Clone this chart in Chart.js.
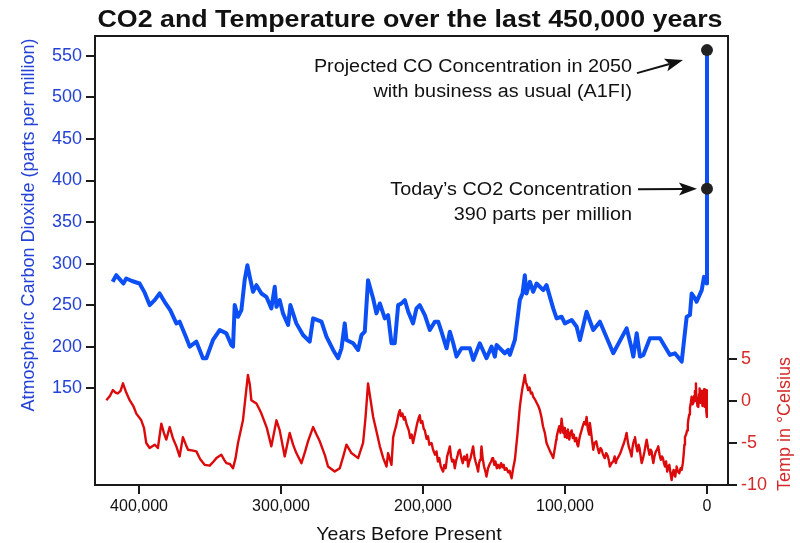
<!DOCTYPE html>
<html><head><meta charset="utf-8">
<script src="https://cdn.jsdelivr.net/npm/chart.js@4"></script>
<style>html,body{margin:0;padding:0;background:#fff}#wrap{width:800px;height:543px;position:relative}</style>
</head><body><div id="wrap"><canvas id="c"></canvas></div>
<script>
// ---- DATA (years in thousands before present) ----
const co2Kyr = [418.6,416,413.5,411,409,405,399.6,396,392.5,389,385.5,382,378,373.7,371.4,367,364.3,359.6,355,352.6,347.9,343.2,338.5,335,333.8,332.6,330.3,327.9,325.6,323.7,322,319.7,317.3,313.8,310.3,306.8,304.4,303.2,300.9,298.6,295,293.4,289.2,284.5,279.8,277.4,271.5,268,263.3,259.8,257.4,255.1,253.9,249.2,245.7,243.3,241,238.7,235.1,232.8,230.4,226.9,224.6,222.2,219.9,217.5,215.2,212.8,210.4,207,204.6,202.3,198.7,195.2,191.7,189.3,187,183.4,181.1,178.7,176.4,172.9,167,164.6,160,155.3,151.7,149.4,148.2,142.4,140,138.8,135.3,131.8,129.9,128.3,127.1,124.7,122.4,120,115.3,113,108.3,105.9,102.4,100.1,95.3,91.8,89.5,84.8,80.1,75.4,66,56.6,53.1,51.9,49.5,47.2,44.8,40.2,33.1,26.1,22.6,17.8,14.3,12,10.8,8.5,7.3,3.7,2.1,0.2,0,0,0];
const co2Ppm = [278,286,281,276,282,279,276,265,250,256,264,254,244,228,230,212,200,206,186,186,208,220,216,202,200,250,236,244,280,298,284,266,274,264,260,246,272,248,256,240,226,250,228,214,206,234,230,212,196,186,198,228,208,204,196,214,218,280,258,240,252,234,238,204,204,250,252,256,242,228,246,250,238,220,230,230,218,198,218,204,188,198,198,184,204,186,200,188,202,192,196,190,208,256,264,286,264,278,266,276,268,274,246,234,236,228,232,224,208,242,220,230,192,222,198,188,216,188,190,210,210,190,192,182,236,238,264,258,254,268,284,276,280,390,557];

const tempKyr = [423,420.5,418.4,416.5,414.9,413,411.3,409,406.6,404,401.9,398.4,396.5,394.9,392.5,389,386.7,384.3,382.5,380.8,378.4,376,373.7,371.4,369.1,367,365.5,362,359.6,357,353.8,350.2,347.5,345.5,342,340,338.5,336,333.8,332,330.3,326.8,325,323.3,322,320.9,317.3,315.5,313.8,310,306.8,303.2,300.9,297.4,293.9,291.5,289.2,285.6,283,281,277.4,275,272.7,269,266.9,262.2,258.6,256,253.9,250.4,245.7,242.2,240.5,238.7,236.8,235.1,232.5,230.4,228,225.7,224.6,222.2,
221,220,219,218,217,216.3,215.5,214.5,213.5,212.8,211.5,210,209,208,207,206,205,204,203,202.3,201.5,200.5,199.5,198.7,197.5,196.5,195.5,194,192.9,191.5,190.5,189.5,188.5,187.5,186.5,185.8,185,184,183,182,181.1,180.3,179.5,178.5,177.6,176.8,175.8,175,174.1,173,172,171,170,169,168.2,167.4,166.5,165.5,164.7,163.8,163,162,161.2,160.5,159.8,159.2,158.8,158,157,156,155.3,154.2,153,152,151.2,150.6,149.8,149,148,147.1,146,145,144,143.2,142.4,141.2,140,139,138.3,137.6,136.5,135.3,
133.5,131.8,130.8,130,129,128.3,127.6,127,126.4,125.9,125,124,123.2,122.4,121.2,120,118.8,
117.7,116.5,115.5,114.2,113,112,110.5,109.3,108.3,107.5,107,106.2,105.9,105,104,103.2,102.4,101.8,101.2,100.6,100.1,99.3,98.6,98,97.4,97,96.2,95.3,94.5,93.8,93,92,91.3,90.7,90,89.2,88.5,87.5,86.5,85.5,84.8,84,83,82.5,82,81,80.1,79.2,78,77,76,75,74.2,73.2,72,71,70,69.2,68.4,67.2,66,65,64.2,63.6,62.2,61,59.8,58.5,57.5,56.6,55.8,55,54,53.1,52.5,51.9,51.2,50.7,50,49,48.2,47.5,46.7,46,45,44,43.2,42.5,41.5,40.5,39.7,39,38.4,37.8,37,36,35.2,34.3,33.4,32.5,31.7,31,30.3,29.6,28.8,28,27.2,26.5,25.7,24.9,24.2,23.5,22.9,22.3,21.8,21.4,20.5,19.5,18.6,17.8,17,16.5,15.9,15.5,14.7,14,13.5,13.2,12.5,12,11.4,10.8,10.2,9.5,9,8.5,8.1,7.8,7.5,7.2,6.7,6.1,5.6,5.2,4.8,4.5,4.1,3.7,3.2,2.8,2.4,2,1.7,1.4,1.1,0.8,0.5,0.2,0];
const tempC = [0.1,0.6,1.3,1.0,0.9,1.2,2.1,1.0,0.1,-0.6,-1.5,-2.3,-3.2,-5.0,-5.6,-5.2,-5.6,-2.7,-3.8,-4.6,-3.1,-4.5,-5.4,-6.6,-4.3,-5.2,-5.8,-5.9,-6.0,-6.9,-7.6,-7.7,-7.2,-6.8,-6.4,-7.0,-7.4,-7.5,-8.0,-6.8,-5.0,-2.3,0.5,3.1,2.0,0.1,-0.3,-0.9,-1.5,-3.2,-5.4,-2.3,-3.5,-6.6,-3.8,-5.2,-6.2,-7.4,-6.0,-4.8,-3.1,-4.0,-4.8,-6.5,-7.8,-8.4,-8.0,-6.5,-5.2,-6.2,-6.8,-5.0,-2.0,2.1,0.0,-1.9,-3.8,-5.4,-6.8,-7.8,-6.2,-7.6,
-4.3,-3.6,-3.0,-2.2,-1.4,-1.1,-1.8,-1.5,-2.2,-1.9,-2.8,-3.5,-4.4,-4.0,-5.0,-4.2,-3.4,-2.6,-2.0,-1.7,-2.6,-2.4,-3.3,-3.5,-4.5,-4.2,-5.2,-5.0,-5.8,-6.4,-6.0,-7.2,-6.8,-7.8,-8.2,-8.4,-7.6,-8.0,-6.6,-6.0,-5.4,-6.6,-7.2,-7.0,-8.0,-7.2,-6.6,-6.0,-5.8,-6.8,-7.4,-6.6,-7.0,-6.4,-7.8,-7.2,-6.8,-6.0,-5.4,-6.6,-7.2,-7.8,-8.4,-7.4,-7.0,-6.2,-5.4,-6.8,-7.8,-8.4,-9.0,-8.0,-7.5,-7.2,-6.8,-6.8,-7.6,-7.2,-8.0,-7.6,-8.0,-7.4,-7.9,-7.6,-8.2,-8.0,-8.5,-8.3,-8.8,-9.2,-8.0,-7.0,
-4.0,-0.7,0.6,1.5,2.4,3.1,2.2,2.0,1.6,1.3,1.6,0.9,1.0,0.5,0.2,-0.2,-0.6,
-1.1,-2.0,-3.0,-3.8,-5.0,-5.4,-6.0,-6.4,-6.8,-6.0,-5.5,-4.6,-4.3,-3.6,-3.0,-3.8,-2.1,-3.0,-3.8,-3.2,-4.3,-3.6,-4.4,-3.4,-4.2,-4.6,-3.8,-3.5,-4.4,-4.0,-4.8,-4.4,-5.2,-5.4,-4.6,-4.0,-3.6,-3.0,-2.5,-2.8,-1.9,-3.2,-4.0,-2.6,-3.2,-4.6,-5.8,-5.0,-4.8,-5.6,-6.2,-5.6,-5.8,-6.4,-6.8,-6.2,-6.5,-7.0,-7.8,-7.4,-7.2,-6.6,-7.4,-7.0,-6.6,-6.2,-5.6,-5.0,-4.4,-3.8,-4.8,-5.5,-6.0,-6.6,-5.6,-5.0,-4.6,-4.3,-5.2,-6.0,-5.2,-5.6,-6.6,-7.4,-6.8,-6.0,-5.2,-4.6,-5.6,-6.4,-5.8,-6.0,-6.8,-7.4,-6.6,-6.0,-5.8,-5.4,-6.4,-7.0,-6.6,-6.8,-7.4,-7.8,-7.2,-8.4,-7.8,-7.6,-8.6,-9.4,-8.6,-8.2,-8.8,-9.0,-8.2,-7.8,-8.4,-8.6,-8.0,-8.2,-7.4,-6.5,-5.2,-4.3,-4.0,-3.5,-2.8,-2.3,-1.6,-0.8,-0.2,0.5,-0.4,-0.2,0.6,1.2,0.0,2.1,0.4,0.2,-0.6,-0.7,0.8,1.5,-0.2,0.0,1.2,0.9,-0.6,-0.3,1.2,1.4,-0.4,-0.7,1.0,0.8,-1.2,1.3,-1.9];

const markerKyr = [0, 0];
const markerPpm = [390, 557];

const xTickValues = [400000, 300000, 200000, 100000, 0];
const co2TickValues = [150, 200, 250, 300, 350, 400, 450, 500, 550];
const tempTickValues = [5, 0, -5, -10];

const titleText = 'CO2 and Temperature over the last 450,000 years';
const co2AxisTitle = 'Atmospheric Carbon Dioxide (parts per million)';
const tempAxisTitle = 'Temp in \u00B0Celsius';
const xAxisTitle = 'Years Before Present';
const noteProjected = ['Projected CO Concentration in 2050', 'with business as usual (A1FI)'];
const noteToday = ['Today\u2019s CO2 Concentration', '390 parts per million'];

// ---- STYLE ----
const FONT = '"Liberation Sans", Arial, Helvetica, sans-serif';
const BLUE_LINE = '#0b4ff5';
const BLUE_TEXT = '#2442d6';
const RED_LINE = '#dc0a0a';
const RED_TEXT = '#d42a2a';
const AXIS = '#1a1a1a';

const co2Data = co2Kyr.map((k, i) => ({x: k * 1000, y: co2Ppm[i]}));
const tempData = tempKyr.map((k, i) => ({x: k * 1000, y: tempC[i]}));
const markerData = markerKyr.map((k, i) => ({x: k * 1000, y: markerPpm[i]}));

function arrow(ctx, x0, y0, x1, y1) {
  const ang = Math.atan2(y1 - y0, x1 - x0);
  const hl = 18, hw = 6.5;
  const bx = x1 - hl * Math.cos(ang), by = y1 - hl * Math.sin(ang);
  ctx.beginPath();
  ctx.moveTo(x0, y0); ctx.lineTo(bx + 4 * Math.cos(ang), by + 4 * Math.sin(ang));
  ctx.lineWidth = 2; ctx.strokeStyle = '#111'; ctx.stroke();
  ctx.beginPath();
  ctx.moveTo(x1, y1);
  ctx.lineTo(bx - hw * Math.sin(ang), by + hw * Math.cos(ang));
  ctx.lineTo(bx + 4 * Math.cos(ang), by + 4 * Math.sin(ang));
  ctx.lineTo(bx + hw * Math.sin(ang), by - hw * Math.cos(ang));
  ctx.closePath(); ctx.fillStyle = '#111'; ctx.fill();
}

function stretchedText(ctx, text, x, y, sx) {
  ctx.save();
  ctx.translate(x, y); ctx.scale(sx, 1);
  ctx.fillText(text, 0, 0);
  ctx.restore();
}

const textPlugin = {
  id: 'texts',
  afterDraw(chart) {
    const {ctx, chartArea: a, scales} = chart;
    ctx.save();
    // top frame line
    ctx.strokeStyle = AXIS; ctx.lineWidth = 2;
    ctx.beginPath(); ctx.moveTo(a.left - 1, a.top); ctx.lineTo(a.right + 1, a.top); ctx.stroke();
    // title
    ctx.fillStyle = '#111';
    ctx.font = 'bold 23px ' + FONT;
    ctx.textAlign = 'center'; ctx.textBaseline = 'alphabetic';
    stretchedText(ctx, titleText, 410, 27, 1.165);
    // x axis title
    ctx.font = '19px ' + FONT;
    stretchedText(ctx, xAxisTitle, 409, 540, 1.03);
    // left axis title
    ctx.save();
    ctx.translate(34, 225); ctx.rotate(-Math.PI / 2);
    ctx.fillStyle = BLUE_TEXT; ctx.font = '18px ' + FONT;
    ctx.fillText(co2AxisTitle, 0, 0);
    ctx.restore();
    // right axis title
    ctx.save();
    ctx.translate(790, 424); ctx.rotate(-Math.PI / 2);
    ctx.fillStyle = RED_TEXT; ctx.font = '18px ' + FONT;
    ctx.fillText(tempAxisTitle, 0, 0);
    ctx.restore();
    // annotations
    const mx = scales.x.getPixelForValue(markerData[1].x);
    const myTop = scales.y.getPixelForValue(markerData[1].y);
    const myToday = scales.y.getPixelForValue(markerData[0].y);
    ctx.fillStyle = '#111'; ctx.font = '18px ' + FONT; ctx.textAlign = 'right';
    stretchedText(ctx, noteProjected[0], 632, myTop + 22, 1.1);
    stretchedText(ctx, noteProjected[1], 632, myTop + 47, 1.1);
    stretchedText(ctx, noteToday[0], 632, myToday + 6, 1.1);
    stretchedText(ctx, noteToday[1], 632, myToday + 31, 1.1);
    arrow(ctx, 637, myTop + 23, mx - 24, myTop + 10);
    arrow(ctx, 638, myToday + 0.5, mx - 10, myToday);
    ctx.restore();
  }
};

new Chart(document.getElementById('c'), {
  type: 'line',
  data: {
    datasets: [
      {label: 'Temperature', data: tempData, yAxisID: 'y1', borderColor: RED_LINE, borderWidth: 2.4, pointRadius: 0, tension: 0, borderJoinStyle: 'round', order: 3},
      {label: 'CO2', data: co2Data, yAxisID: 'y', borderColor: BLUE_LINE, borderWidth: 4, pointRadius: 0, tension: 0, borderJoinStyle: 'round', order: 2},
      {label: 'Markers', data: markerData, yAxisID: 'y', showLine: false, pointRadius: 6, pointBackgroundColor: '#222', pointBorderColor: '#222', pointBorderWidth: 0, order: 1}
    ]
  },
  options: {
    responsive: true, maintainAspectRatio: false, animation: false,
    layout: {padding: {top: 36, left: 0, right: 0, bottom: 0}},
    plugins: {legend: {display: false}, tooltip: {enabled: false}, title: {display: false}},
    scales: {
      x: {
        type: 'linear', reverse: true, min: -14800, max: 431000,
        afterBuildTicks: s => { s.ticks = xTickValues.map(v => ({value: v})); },
        afterFit: s => { s.height = 58; },
        grid: {display: true, drawOnChartArea: false, drawTicks: true, tickLength: 9, color: AXIS, lineWidth: 2},
        border: {display: true, color: AXIS, width: 2},
        ticks: {color: '#111', font: {family: FONT, size: 16}, padding: 3, maxRotation: 0, autoSkip: false,
          callback: v => Number(v).toLocaleString('en-US')}
      },
      y: {
        type: 'linear', position: 'left', min: 33.4, max: 574,
        afterBuildTicks: s => { s.ticks = co2TickValues.map(v => ({value: v})); },
        afterFit: s => { s.width = 95; },
        grid: {display: true, drawOnChartArea: false, drawTicks: true, tickLength: 9, color: AXIS, lineWidth: 2},
        border: {display: true, color: AXIS, width: 2},
        ticks: {color: BLUE_TEXT, font: {family: FONT, size: 18}, padding: 4, autoSkip: false}
      },
      y1: {
        type: 'linear', position: 'right', min: -10, max: 43.45,
        afterBuildTicks: s => { s.ticks = tempTickValues.map(v => ({value: v})); },
        afterFit: s => { s.width = 72; },
        grid: {display: true, drawOnChartArea: false, drawTicks: true, tickLength: 9, color: AXIS, lineWidth: 2},
        border: {display: true, color: AXIS, width: 2},
        ticks: {color: RED_TEXT, font: {family: FONT, size: 18}, padding: 4, autoSkip: false}
      }
    }
  },
  plugins: [textPlugin]
});
</script>
</body></html>
